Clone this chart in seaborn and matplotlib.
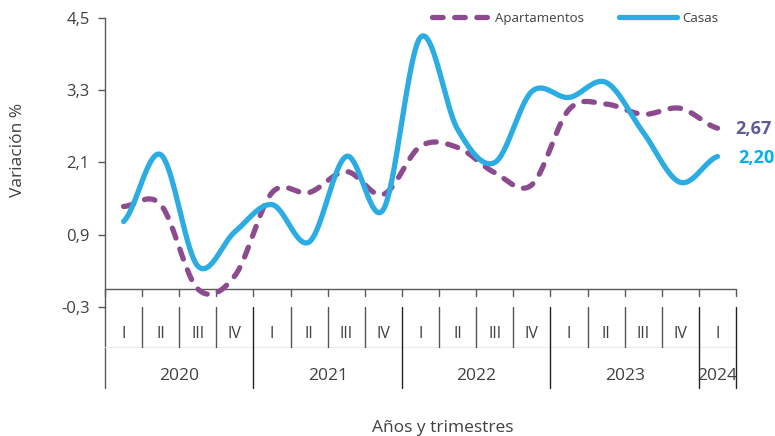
import numpy as np
import pandas as pd
import matplotlib
matplotlib.use('Agg')
import matplotlib.pyplot as plt
import seaborn as sns

# Variación % por trimestre, 2020-I a 2024-I
years = ['2020', '2021', '2022', '2023', '2024']
quarters_per_year = [4, 4, 4, 4, 1]
quarter_names = ['I', 'II', 'III', 'IV']
apartamentos = [1.37, 1.4, 0.0, 0.22, 1.6, 1.6, 1.95, 1.57,
                2.37, 2.35, 1.93, 1.73, 2.98, 3.07, 2.9, 3.0, 2.67]
casas = [1.12, 2.23, 0.38, 0.95, 1.4, 0.78, 2.2, 1.32,
         4.18, 2.65, 2.1, 3.28, 3.18, 3.43, 2.6, 1.77, 2.2]
yticks = [-0.3, 0.9, 2.1, 3.3, 4.5]

C_APTO = '#8B4B8E'
C_CASA = '#2BACE2'
TXT = '#404040'


def smooth(y, n=40):
    """Catmull-Rom curve through the points (like Excel's smoothed line)"""
    y = np.asarray(y, dtype=float)
    p = np.r_[y[0], y, y[-1]]
    xs, ys = [], []
    t = np.linspace(0, 1, n, endpoint=False)
    for i in range(len(y) - 1):
        p0, p1, p2, p3 = p[i], p[i + 1], p[i + 2], p[i + 3]
        m1 = (p2 - p0) / 2
        m2 = (p3 - p1) / 2
        h00 = 2 * t**3 - 3 * t**2 + 1
        h10 = t**3 - 2 * t**2 + t
        h01 = -2 * t**3 + 3 * t**2
        h11 = t**3 - t**2
        xs.append(i + t)
        ys.append(h00 * p1 + h10 * m1 + h01 * p2 + h11 * m2)
    xs.append([len(y) - 1])
    ys.append([y[-1]])
    return np.concatenate(xs), np.concatenate(ys)


sns.set_theme(style='white')
plt.rcParams['font.family'] = ['Open Sans', 'DejaVu Sans']

fig = plt.figure(figsize=(7.75, 4.36), dpi=100)
ax = fig.add_axes([0.1355, 0.2959, 0.8142, 0.6628])

xa, ya = smooth(apartamentos)
xc, yc = smooth(casas)
df_a = pd.DataFrame({'x': xa, 'y': ya})
df_c = pd.DataFrame({'x': xc, 'y': yc})

sns.lineplot(data=df_a, x='x', y='y', ax=ax, color=C_APTO, lw=3.8,
             linestyle=(0, (2.0, 2.2)), dash_capstyle='round', sort=False,
             label='Apartamentos', zorder=3)
sns.lineplot(data=df_c, x='x', y='y', ax=ax, color=C_CASA, lw=3.8,
             solid_capstyle='round', sort=False, label='Casas', zorder=4)

n = len(casas)
ax.set_xlim(-0.5, n - 0.5)
ax.set_ylim(-0.3, 4.5)
ax.set_yticks(yticks)
ax.set_yticklabels([f'{v:.1f}'.replace('.', ',') for v in yticks],
                   fontsize=12, color=TXT)
ax.set_xticks([])
ax.set_xlabel('')
ax.set_ylabel('')
ax.tick_params(axis='y', left=True, length=5, width=1, color='#595959', pad=6)
for s in ['top', 'right', 'bottom']:
    ax.spines[s].set_visible(False)
ax.spines['left'].set_color('#595959')
ax.spines['left'].set_linewidth(1)

# category axis at y = 0 with ticks
ax.plot([-0.5, n - 0.5], [0, 0], color='#595959', lw=1, zorder=2)
for b in np.arange(-0.5, n, 1.0):
    ax.plot([b, b], [0, -0.116], color='#595959', lw=1, clip_on=False)

# multi-level labels below the plot
low_q, low_y = -0.967, -1.65
ax.plot([-0.5, -0.5], [-0.3, low_y], color='#595959', lw=1, clip_on=False)
ax.plot([-0.5, n - 0.5], [low_q, low_q], color='#ececec', lw=0.8, clip_on=False)
pos = 0
for yr, nq in zip(years, quarters_per_year):
    for q in range(nq):
        ax.text(pos + q, -0.75, quarter_names[q], ha='center', va='center',
                fontsize=11.5, color=TXT)
        if q < nq - 1:
            ax.plot([pos + q + 0.5] * 2, [-0.3, low_q], color='#555555',
                    lw=1, clip_on=False)
    ax.text(pos + (nq - 1) / 2, -1.45, yr, ha='center', va='center',
            fontsize=12.5, color=TXT)
    pos += nq
    ax.plot([pos - 0.5] * 2, [-0.3, low_y], color='#222222', lw=1, clip_on=False)

# final values
ax.text(16.47, 2.65, '2,67', fontsize=13, fontweight='bold', color='#5E5B96',
        va='center', ha='left', clip_on=False)
ax.text(16.55, 2.17, '2,20', fontsize=13, fontweight='bold', color='#00B0F0',
        va='center', ha='left', clip_on=False)

ax.legend(loc='center', bbox_to_anchor=(0.745, 1.0), ncol=2, frameon=False,
          fontsize=9.5, handlelength=4.4, handletextpad=0.4, columnspacing=2.6,
          labelcolor=TXT)

fig.text(18 / 775, 1 - 150 / 436, 'Variación %', rotation=90, ha='center',
         va='center', fontsize=12.5, color=TXT)
fig.text(443 / 775, 1 - 428 / 436, 'Años y trimestres', ha='center',
         va='center', fontsize=12.5, color=TXT)

fig.savefig('out.png', dpi=100)
